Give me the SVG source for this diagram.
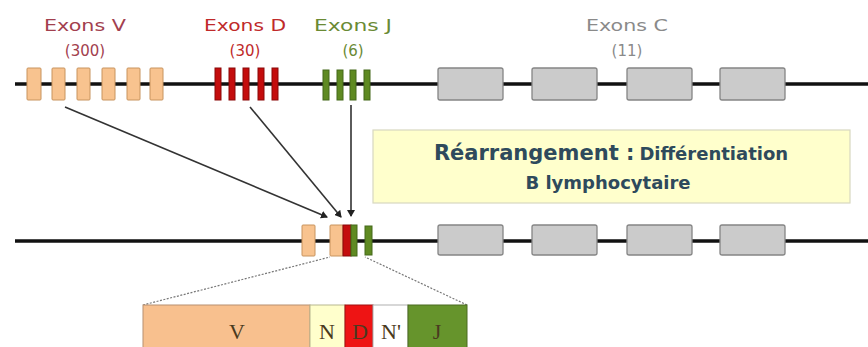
<svg xmlns="http://www.w3.org/2000/svg" width="868" height="347" viewBox="0 0 868 347">
<style>
.chrom{stroke:#111;stroke-width:3.5;fill:none}
.v{fill:#f8c38f;stroke:#c8945e;stroke-width:1}
.d{fill:#c40d0d;stroke:#8a0808;stroke-width:1}
.j{fill:#5f8a22;stroke:#44691a;stroke-width:1}
.c{fill:#cbcbcb;stroke:#858585;stroke-width:1.3}
.lbl{font-family:"DejaVu Sans",sans-serif;font-size:15px;text-anchor:middle}
.conn{stroke:#333;stroke-width:1.6;fill:none}
.dot{stroke:#777;stroke-width:1.2;stroke-dasharray:2 1.5;fill:none}
.seg{font-family:"Liberation Serif",serif;font-size:22px;text-anchor:middle;fill:#4a3a20}
.note{font-family:"DejaVu Sans",sans-serif;font-weight:bold;text-anchor:middle;fill:#2e4a5c}
</style>
<defs>
<marker id="ah" markerWidth="8" markerHeight="8" refX="6" refY="4" orient="auto" markerUnits="userSpaceOnUse">
<path d="M0,0 L7,4 L0,8 z" fill="#222"/>
</marker>
</defs>

<g id="labels">
<text class="lbl" x="85" y="31" fill="#a2404e" textLength="82" lengthAdjust="spacingAndGlyphs">Exons V</text>
<text class="lbl" x="85" y="56" fill="#a2404e">(300)</text>
<text class="lbl" x="245" y="31" fill="#c02a2a" textLength="82" lengthAdjust="spacingAndGlyphs">Exons D</text>
<text class="lbl" x="245" y="56" fill="#c02a2a">(30)</text>
<text class="lbl" x="353" y="31" fill="#6a8a34" textLength="78" lengthAdjust="spacingAndGlyphs">Exons J</text>
<text class="lbl" x="353" y="56" fill="#6a8a34">(6)</text>
<text class="lbl" x="627" y="31" fill="#8a8a8a" textLength="82" lengthAdjust="spacingAndGlyphs">Exons C</text>
<text class="lbl" x="627" y="56" fill="#8a8a8a">(11)</text>
</g>

<g id="germline">
<line class="chrom" x1="15" y1="84" x2="868" y2="84"/>
<rect class="v" x="27" y="68" width="14" height="32" rx="1"/>
<rect class="v" x="52" y="68" width="13" height="32" rx="1"/>
<rect class="v" x="77" y="68" width="13" height="32" rx="1"/>
<rect class="v" x="102" y="68" width="13" height="32" rx="1"/>
<rect class="v" x="127" y="68" width="13" height="32" rx="1"/>
<rect class="v" x="150" y="68" width="13" height="32" rx="1"/>
<rect class="d" x="215" y="68" width="6" height="32"/>
<rect class="d" x="229" y="68" width="6" height="32"/>
<rect class="d" x="243" y="68" width="6" height="32"/>
<rect class="d" x="258" y="68" width="6" height="32"/>
<rect class="d" x="272" y="68" width="6" height="32"/>
<rect class="j" x="323" y="70" width="6" height="30"/>
<rect class="j" x="337" y="70" width="6" height="30"/>
<rect class="j" x="350" y="70" width="6" height="30"/>
<rect class="j" x="364" y="70" width="6" height="30"/>
<rect class="c" x="438" y="68" width="65" height="32" rx="2"/>
<rect class="c" x="532" y="68" width="65" height="32" rx="2"/>
<rect class="c" x="627" y="68" width="65" height="32" rx="2"/>
<rect class="c" x="720" y="68" width="65" height="32" rx="2"/>
</g>

<g id="note">
<rect x="373" y="130" width="477" height="73" fill="#ffffcc" stroke="#d8d8c0" stroke-width="1.2"/>
<text class="note" x="611" y="160"><tspan font-size="21">Réarrangement :</tspan><tspan font-size="18" dx="5">Différentiation</tspan></text>
<text class="note" x="608" y="189" font-size="18">B lymphocytaire</text>
</g>

<g id="rearranged">
<line class="chrom" x1="15" y1="241" x2="868" y2="241"/>
<rect class="v" x="302" y="225" width="13" height="31" rx="1"/>
<rect class="v" x="330" y="225" width="13" height="31" rx="1"/>
<rect class="d" x="343" y="225" width="8" height="31"/>
<rect class="j" x="351" y="225" width="6" height="31"/>
<rect class="j" x="365" y="226" width="7" height="29"/>
<rect class="c" x="438" y="225" width="65" height="30" rx="2"/>
<rect class="c" x="532" y="225" width="65" height="30" rx="2"/>
<rect class="c" x="627" y="225" width="65" height="30" rx="2"/>
<rect class="c" x="720" y="225" width="65" height="30" rx="2"/>
</g>

<g id="zoom">
<line class="dot" x1="143" y1="305" x2="330" y2="257"/>
<line class="dot" x1="467" y1="305" x2="365" y2="257"/>
<rect x="143" y="305" width="167" height="45" fill="#f8c08e" stroke="#b89070" stroke-width="1"/>
<rect x="310" y="305" width="35" height="45" fill="#ffffcc" stroke="#b8b890" stroke-width="1"/>
<rect x="345" y="305" width="28" height="45" fill="#ee1414" stroke="#a01010" stroke-width="1"/>
<rect x="373" y="305" width="35" height="45" fill="#ffffff" stroke="#b0b0b0" stroke-width="1"/>
<rect x="408" y="305" width="59" height="45" fill="#66942c" stroke="#4a6a20" stroke-width="1"/>
<text class="seg" x="237" y="339">V</text>
<text class="seg" x="327" y="339">N</text>
<text class="seg" x="360" y="339" fill="#7a1010">D</text>
<text class="seg" x="391" y="339">N'</text>
<text class="seg" x="437" y="339" fill="#2a3a10">J</text>
</g>

<g id="connectors">
<line class="conn" x1="65" y1="107" x2="327" y2="217" marker-end="url(#ah)"/>
<line class="conn" x1="250" y1="107" x2="341" y2="217" marker-end="url(#ah)"/>
<line class="conn" x1="351" y1="105" x2="351" y2="216" marker-end="url(#ah)"/>
</g>
</svg>
